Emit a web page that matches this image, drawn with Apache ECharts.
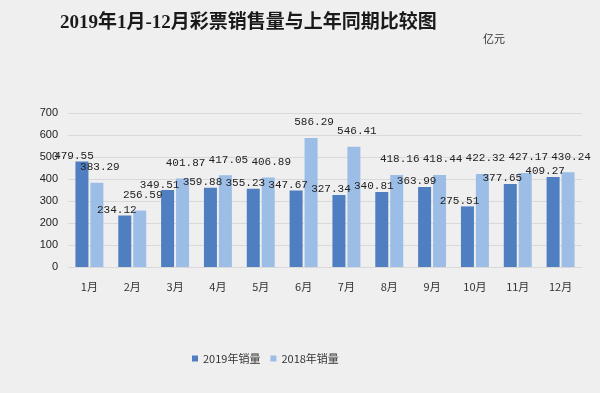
<!DOCTYPE html>
<html>
<head>
<meta charset="utf-8">
<script src="https://cdn.jsdelivr.net/npm/echarts@6/dist/echarts.min.js"></script>
<style>
html,body{margin:0;padding:0;background:#efeff0;}
#c{width:600px;height:393px;}
</style>
</head>
<body>
<div id="c"></div>
<script>
const categories = ['1月','2月','3月','4月','5月','6月','7月','8月','9月','10月','11月','12月'];
const sales2019 = [479.55, 234.12, 349.51, 359.88, 355.23, 347.67, 327.34, 340.81, 363.99, 275.51, 377.65, 409.27];
const sales2018 = [383.29, 256.59, 401.87, 417.05, 406.89, 586.29, 546.41, 418.16, 418.44, 422.32, 427.17, 430.24];
const seriesNames = ['2019年销量', '2018年销量'];
const yTicks = [0, 100, 200, 300, 400, 500, 600, 700];

const chart = echarts.init(document.getElementById('c'));
const labelFont = '"Liberation Mono", "DejaVu Sans Mono", monospace';
chart.setOption({
  backgroundColor: '#efeff0',
  animation: false,
  title: [{
    text: '2019年1月-12月彩票销售量与上年同期比较图',
    left: 55, top: 9,
    textStyle: { fontSize: 19, fontWeight: 'bold', color: '#1a1a1a', fontFamily: '"Liberation Serif", "Noto Sans CJK SC", serif' }
  }, {
    text: '亿元',
    left: 478, top: 28,
    textStyle: { fontSize: 11, fontWeight: 'normal', color: '#333', fontFamily: '"Noto Sans CJK SC", sans-serif' }
  }],
  legend: {
    data: seriesNames,
    left: 187, top: 348,
    itemWidth: 6, itemHeight: 6, itemGap: 10,
    icon: 'rect',
    textStyle: { fontSize: 11, color: '#333', fontFamily: '"Noto Sans CJK SC", sans-serif' }
  },
  grid: { left: 68, right: 18, top: 113, bottom: 126 },
  xAxis: {
    type: 'category',
    data: categories,
    axisLine: { show: true, lineStyle: { color: '#d9d9d9' } },
    axisTick: { show: false },
    axisLabel: { fontSize: 11, color: '#333', margin: 14, fontFamily: '"Noto Sans CJK SC", sans-serif' }
  },
  yAxis: {
    type: 'value',
    min: yTicks[0], max: yTicks[yTicks.length - 1], interval: 100,
    axisLine: { show: false },
    axisTick: { show: false },
    splitLine: { lineStyle: { color: '#d9d9d9', width: 1 } },
    axisLabel: { fontSize: 11, color: '#222', margin: 10, fontFamily: '"Liberation Sans", sans-serif' }
  },
  series: [{
    name: seriesNames[0],
    type: 'bar',
    data: sales2019,
    barWidth: 13,
    barGap: '15%',
    itemStyle: { color: '#4f7fc0' },
    label: { show: true, position: 'top', distance: 0, offset: [-8, 0], fontSize: 11, color: '#222', fontFamily: labelFont }
  }, {
    name: seriesNames[1],
    type: 'bar',
    data: sales2018,
    barWidth: 13,
    itemStyle: { color: '#9cbde6' },
    label: { show: true, position: 'top', distance: 10, offset: [3, 0], fontSize: 11, color: '#222', fontFamily: labelFont }
  }]
});
</script>
</body>
</html>
